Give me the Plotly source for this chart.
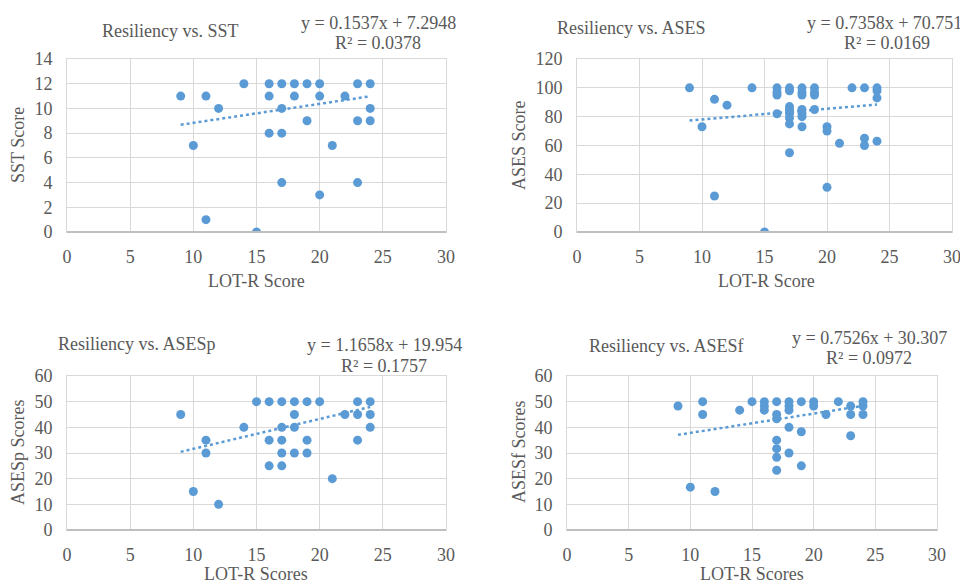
import plotly.graph_objects as go

# Page body has a default 8px margin; the figure is offset by it and fills the rest of the window.
PAGE_W, PAGE_H = 968, 585
OFF = 8
W, H = PAGE_W - OFF, PAGE_H - OFF

# ---- data ----
lotr_sst = [9, 10, 11, 11, 12, 14, 15, 16, 16, 16, 17, 17, 17, 17, 18, 18, 19, 19, 20, 20, 20, 21, 22, 23, 23, 23, 24, 24, 24]
sst = [11, 7, 11, 1, 10, 12, 0, 12, 11, 8, 12, 10, 8, 4, 12, 11, 12, 9, 12, 11, 3, 7, 11, 12, 9, 4, 12, 10, 9]

lotr_ases = [9, 10, 11, 11, 12, 14, 15, 16, 16, 16, 16, 17, 17, 17, 17, 17, 17, 17, 17,
             18, 18, 18, 18, 18, 18, 18, 19, 19, 19, 19, 20, 20, 20, 21, 22, 23, 23, 23, 24, 24, 24, 24]
ases = [100, 73, 92, 25, 88, 100, 0, 100, 97, 95, 82, 100, 98, 87, 85, 82, 79, 75, 55,
        100, 97, 95, 85, 82, 80, 73, 100, 97, 95, 85, 73, 70, 31, 61.5, 100, 100, 65, 60, 100, 98, 93, 63]

lotr_asesp = [9, 10, 11, 11, 12, 14, 15, 16, 16, 16, 17, 17, 17, 17, 17, 18, 18, 18, 18,
              19, 19, 19, 20, 21, 22, 23, 23, 23, 24, 24, 24]
asesp = [45, 15, 35, 30, 10, 40, 50, 50, 35, 25, 50, 40, 35, 30, 25, 50, 45, 40, 30,
         50, 35, 30, 50, 20, 45, 50, 45, 35, 50, 45, 40]

lotr_asesf = [9, 10, 11, 11, 12, 14, 15, 16, 16, 16, 17, 17, 17, 17, 17, 17, 17, 18, 18, 18, 18, 18,
              19, 19, 19, 20, 20, 21, 22, 23, 23, 23, 24, 24, 24]
asesf = [48.3, 16.7, 50, 45, 15, 46.7, 50, 50, 48.3, 46.7, 50, 45, 43.3, 35, 31.7, 28.3, 23.3,
         50, 48.3, 46.7, 40, 30, 50, 38.3, 25, 50, 48.3, 45, 50, 48.3, 45, 36.7, 50, 48.3, 45]

titles = ["Resiliency vs. SST", "Resiliency vs. ASES", "Resiliency vs. ASESp", "Resiliency vs. ASESf"]
y_titles = ["SST Score", "ASES Score", "ASESp Scores", "ASESf Scores"]
x_titles = ["LOT-R Score", "LOT-R Score", "LOT-R Scores", "LOT-R Scores"]
slopes = [0.1537, 0.7358, 1.1658, 0.7526]
intercepts = [7.2948, 70.751, 19.954, 30.307]
r2_values = ["0.0378", "0.0169", "0.1757", "0.0972"]
y_max = [14, 120, 60, 60]
y_dtick = [2, 20, 10, 10]
x_ticks = [0, 5, 10, 15, 20, 25, 30]

series = [(lotr_sst, sst), (lotr_ases, ases), (lotr_asesp, asesp), (lotr_asesf, asesf)]

# ---- layout geometry (page pixels) ----
plot_px = [(67, 446, 59, 232), (577, 952, 59, 232), (67, 446, 376, 530), (567, 937, 376, 530)]
title_pos = [(170, 31), (631, 28), (137, 344), (666, 346)]
eq_pos = [(378, 23), (884, 23), (384, 345), (869, 338)]
r2_pos = [(378, 43), (887, 43), (384, 366), (869, 358)]
xt_pos = [(256, 281), (766, 281), (256, 574), (752, 574)]
yt_pos = [(18, 145), (519, 145), (18, 452), (519, 452)]

BLUE = "#5b9bd5"
TXT = "#595959"
GRID = "#d9d9d9"
FONT = "Liberation Serif"


def fx(px):
    return (px - OFF) / W


def fy(py):
    return 1 - (py - OFF) / H


fig = go.Figure()
annotations = []
shapes = []

for i in range(4):
    xs, ys = series[i]
    xa = "x" if i == 0 else f"x{i+1}"
    ya = "y" if i == 0 else f"y{i+1}"
    fig.add_trace(go.Scatter(x=xs, y=ys, mode="markers", xaxis=xa, yaxis=ya,
                             marker=dict(color=BLUE, size=9, line=dict(width=0)),
                             showlegend=False))
    x0, x1 = min(xs), max(xs)
    fig.add_trace(go.Scatter(x=[x0, x1], y=[slopes[i] * x0 + intercepts[i], slopes[i] * x1 + intercepts[i]],
                             mode="lines", xaxis=xa, yaxis=ya,
                             line=dict(color=BLUE, width=2.5, dash="dot"), showlegend=False))

    l, r, t, b = plot_px[i]
    xkey = "xaxis" if i == 0 else f"xaxis{i+1}"
    ykey = "yaxis" if i == 0 else f"yaxis{i+1}"
    fig.layout[xkey] = dict(domain=[fx(l), fx(r)], anchor=ya, range=[0, 30], automargin=False,
                            tickvals=x_ticks, showgrid=True, gridcolor=GRID, gridwidth=1,
                            zeroline=False, showline=True, mirror=True, linecolor=GRID, linewidth=1,
                            ticks="outside", ticklen=8, tickcolor="rgba(0,0,0,0)",
                            tickfont=dict(family=FONT, size=18, color=TXT), fixedrange=True)
    fig.layout[ykey] = dict(domain=[fy(b), fy(t)], anchor=xa, range=[0, y_max[i]], automargin=False,
                            dtick=y_dtick[i], tick0=0, showgrid=True, gridcolor=GRID, gridwidth=1,
                            zeroline=False, showline=True, mirror=True, linecolor=GRID, linewidth=1,
                            ticks="outside", ticklen=10, tickcolor="rgba(0,0,0,0)",
                            tickfont=dict(family=FONT, size=18, color=TXT), fixedrange=True)
    shapes.append(dict(type="line", xref=f"{xa} domain", yref=f"{ya} domain",
                       x0=0, x1=1, y0=0, y1=0, line=dict(color="#bfbfbf", width=2), layer="above"))

    def ann(text, pos, angle=0):
        return dict(text=text, x=fx(pos[0]), y=fy(pos[1]), xref="paper", yref="paper",
                    xanchor="center", yanchor="middle", showarrow=False, textangle=angle,
                    font=dict(family=FONT, size=18, color=TXT))

    annotations.append(ann(titles[i], title_pos[i]))
    annotations.append(ann(f"y = {slopes[i]}x + {intercepts[i]}", eq_pos[i]))
    annotations.append(ann(f"R² = {r2_values[i]}", r2_pos[i]))
    annotations.append(ann(x_titles[i], xt_pos[i]))
    annotations.append(ann(y_titles[i], yt_pos[i], -90))

fig.update_layout(width=W, height=H, margin=dict(l=0, r=0, t=0, b=0, autoexpand=False),
                  paper_bgcolor="white", plot_bgcolor="white",
                  annotations=annotations, shapes=shapes, showlegend=False)

fig.write_html("out.html")
